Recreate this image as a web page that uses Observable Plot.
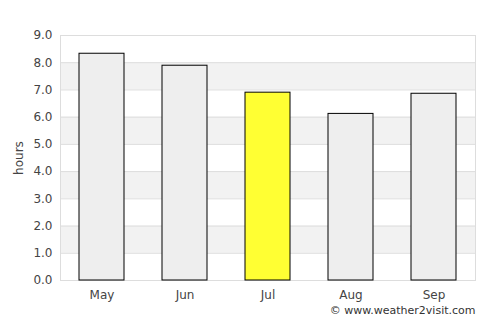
<!DOCTYPE html>
<html>
<head>
<meta charset="utf-8">
<script src="https://cdn.jsdelivr.net/npm/d3@7"></script>
<script src="https://cdn.jsdelivr.net/npm/@observablehq/plot@0.6"></script>
<style>
  body { margin: 0; background: #fff; }
  svg { font-family: "DejaVu Sans", sans-serif; }
</style>
</head>
<body>
<div id="chart"></div>
<script>
const months = ["May", "Jun", "Jul", "Aug", "Sep"];
const hours = [8.33, 7.89, 6.9, 6.12, 6.86];
const highlight = "Jul";
const yTicks = [0, 1, 2, 3, 4, 5, 6, 7, 8, 9];
const stripeStarts = [1, 3, 5, 7];
const credit = "© www.weather2visit.com";

const data = months.map((m, i) => ({month: m, value: hours[i]}));

const chart = Plot.plot({
  width: 500,
  height: 325,
  marginLeft: 60,
  marginRight: 25,
  marginTop: 35,
  marginBottom: 45,
  style: {fontFamily: "DejaVu Sans, sans-serif", fontSize: "12px", color: "#444", background: "#fff"},
  x: {domain: months, paddingInner: 0.46, paddingOuter: 0.23},
  y: {domain: [0, 9]},
  marks: [
    Plot.rect(stripeStarts, {y1: d => d, y2: d => d + 1, fill: "#f2f2f2"}),
    Plot.gridY(yTicks, {stroke: "#dddddd", strokeOpacity: 1}),
    Plot.frame({stroke: "#dddddd"}),
    Plot.axisY(yTicks, {tickSize: 0, tickPadding: 8, tickFormat: d => d.toFixed(1), label: "hours", labelAnchor: "center", labelArrow: "none", labelOffset: 46, fill: "#444"}),
    Plot.axisX({tickSize: 0, tickPadding: 10, label: null, fill: "#444"}),
    Plot.barY(data, {x: "month", y: "value", fill: d => d.month === highlight ? "#ffff33" : "#eeeeee", stroke: "#000", strokeWidth: 1}),
    Plot.text([credit], {frameAnchor: "bottom-right", text: d => d, dy: 33, dx: 0, fontSize: 11, fill: "#333"})
  ]
});
document.getElementById("chart").appendChild(chart);
</script>
</body>
</html>
